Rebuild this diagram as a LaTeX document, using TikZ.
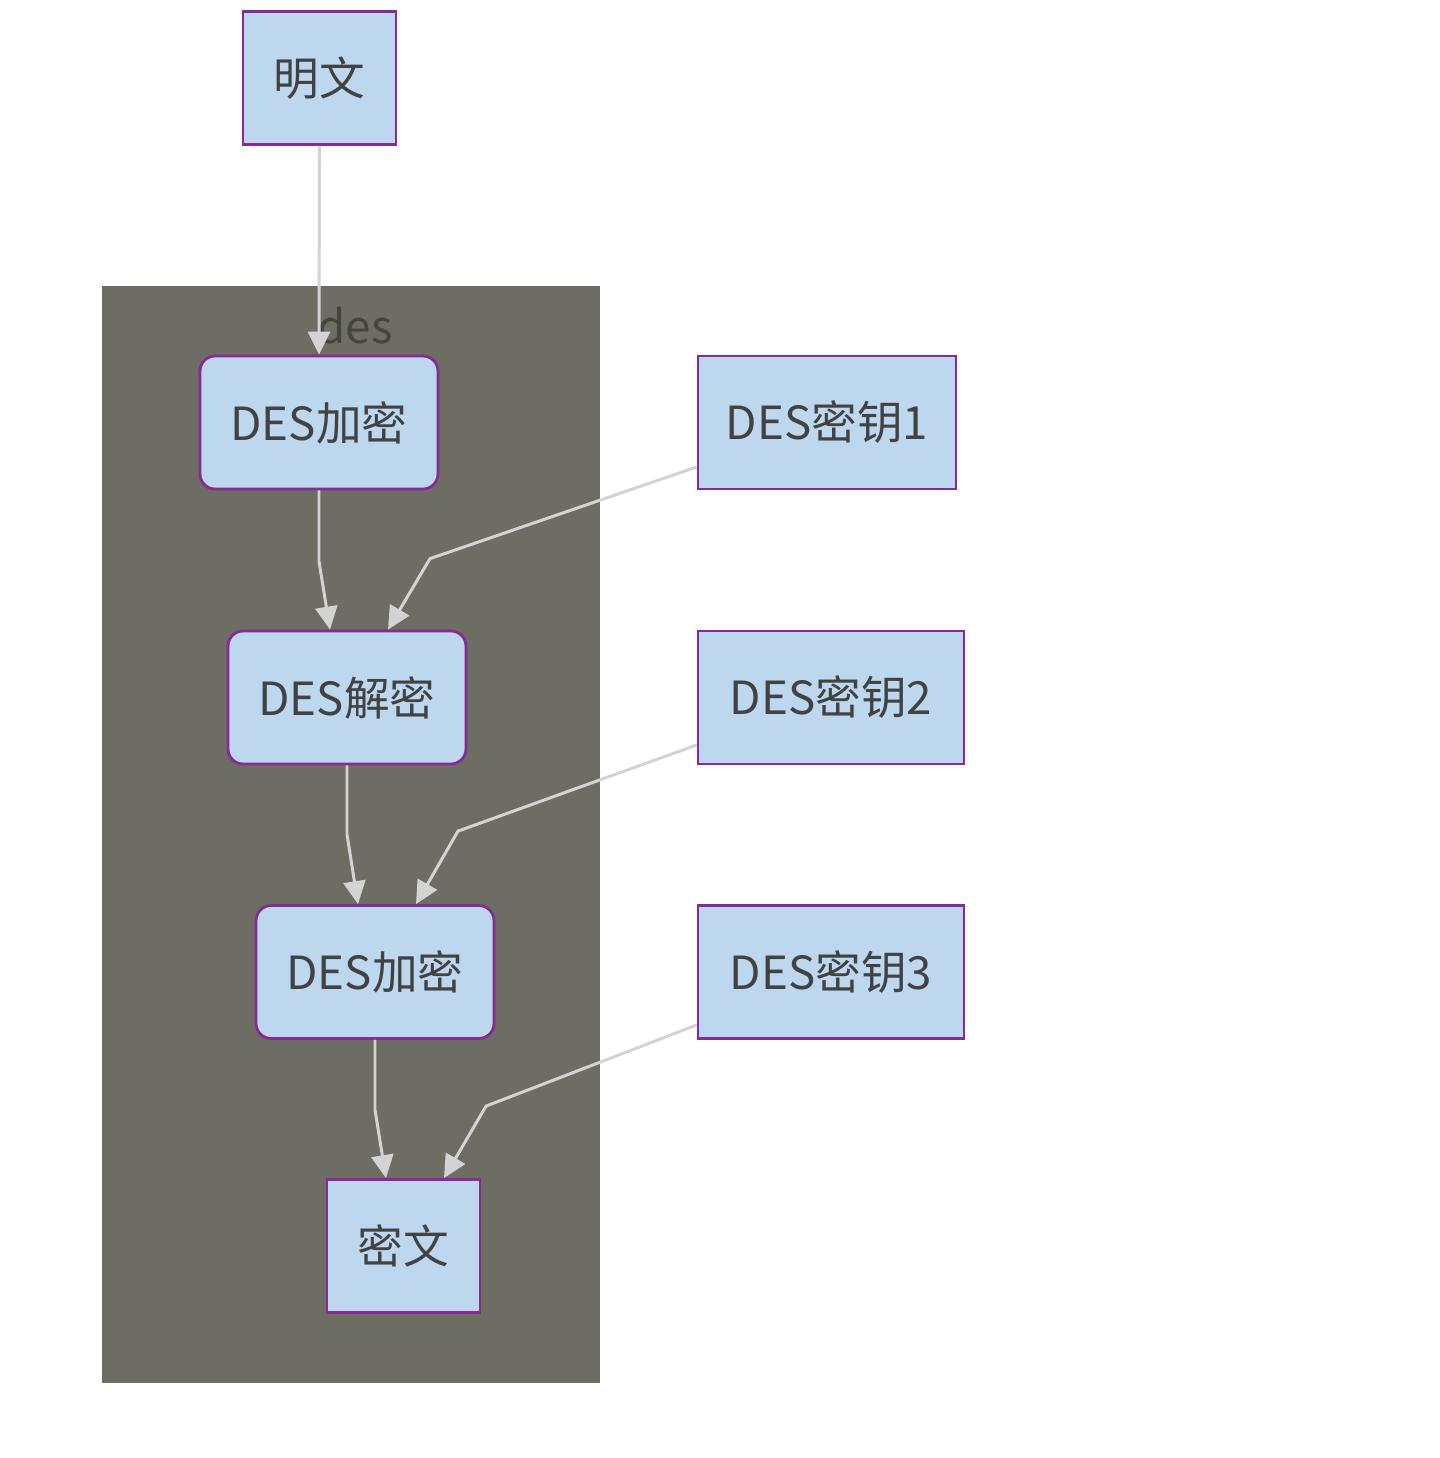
\documentclass[tikz,border=0pt]{standalone}
\usepackage{fontspec}
\setmainfont{Noto Sans CJK SC}
\usetikzlibrary{arrows.meta,positioning}
\definecolor{nodefill}{HTML}{BDD7EE}
\definecolor{nodeline}{HTML}{862A94}
\definecolor{clusterfill}{HTML}{6E6D64}
\definecolor{edgegrey}{HTML}{D3D3D3}
\definecolor{textgrey}{HTML}{424242}
\definecolor{labelgrey}{HTML}{45453F}
\tikzstyle{block} = [draw=nodeline, fill=nodefill, line width=1.6pt, rectangle,
minimum height=2.66cm, inner sep=0pt, text=textgrey, font=\fontsize{26}{30}\selectfont]
\tikzstyle{process} = [block, rounded corners=0.3cm, minimum width=4.76cm]
\tikzstyle{flow} = [draw=edgegrey, line width=1.7pt, -{Triangle[length=0.46cm,width=0.44cm]}]

\begin{document}
\begin{tikzpicture}[x=0.02cm, y=-0.02cm]
		\useasboundingbox (0,0) rectangle (1440,1458);
		% cluster des
		\fill [clusterfill] (102,286) rectangle (600,1383);
		\node [text=labelgrey, font=\fontsize{26}{30}\selectfont] (deslabel) at (355,326) {des};

		\node [block, minimum width=3.06cm] (plain) at (319.5,78) {明文};
		\node [process] (enc1) at (319,422.5) {DES加密};
		\node [process] (dec) at (347,697.5) {DES解密};
		\node [process] (enc2) at (375,972) {DES加密};
		\node [block, minimum width=3.06cm] (cipher) at (403.5,1246) {密文};

		\node [block, minimum width=5.16cm] (key1) at (827,422.5) {DES密钥1};
		\node [block, minimum width=5.32cm] (key2) at (831,697.5) {DES密钥2};
		\node [block, minimum width=5.32cm] (key3) at (831,972) {DES密钥3};

		\draw [flow] (plain.south) -- (enc1.north);
		\draw [flow] (enc1.south) -- ++(0,71) -- ([xshift=-0.34cm]dec.north);
		\draw [flow] (dec.south) -- ++(0,69) -- ([xshift=-0.34cm]enc2.north);
		\draw [flow] (enc2.south) -- ++(0,70) -- ([xshift=-0.35cm]cipher.north);

		\draw [flow] ([yshift=-0.89cm]key1.west) -- ([xshift=1.66cm,yshift=1.42cm]dec.north) -- ([xshift=0.82cm]dec.north);
		\draw [flow] ([yshift=-0.95cm]key2.west) -- ([xshift=1.66cm,yshift=1.46cm]enc2.north) -- ([xshift=0.82cm]enc2.north);
		\draw [flow] ([yshift=-1.06cm]key3.west) -- ([xshift=1.65cm,yshift=1.44cm]cipher.north) -- ([xshift=0.81cm]cipher.north);
\end{tikzpicture}
\end{document}
